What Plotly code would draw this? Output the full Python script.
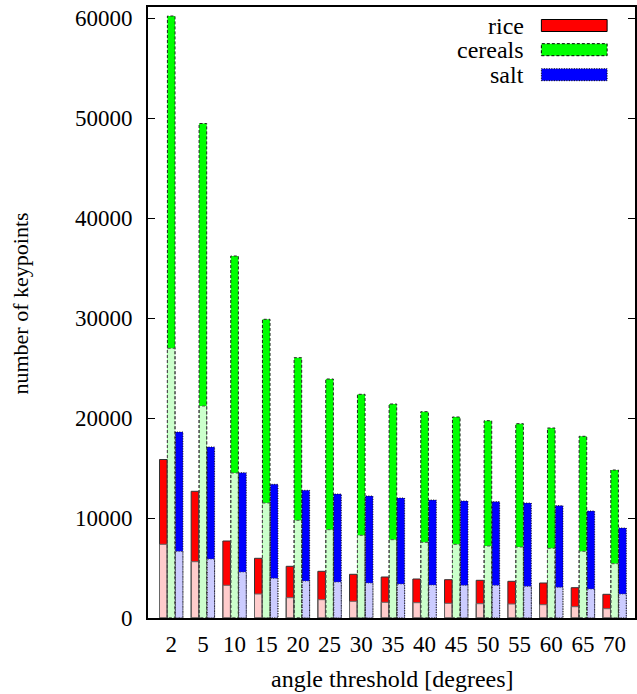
import plotly.graph_objects as go

# ---- data ----
angles = [2, 5, 10, 15, 20, 25, 30, 35, 40, 45, 50, 55, 60, 65, 70]
rice_total = [15850, 12670, 7700, 5970, 5170, 4670, 4370, 4100, 3900, 3830, 3770, 3670, 3500, 3030, 2370]
rice_part = [7370, 5630, 3270, 2400, 2030, 1830, 1670, 1570, 1530, 1470, 1430, 1400, 1330, 1130, 930]
cereals_total = [60200, 49450, 36200, 29870, 26030, 23900, 22370, 21400, 20630, 20100, 19730, 19430, 19000, 18170, 14800]
cereals_part = [26970, 21200, 14500, 11500, 9770, 8830, 8270, 7830, 7570, 7370, 7200, 7100, 6970, 6670, 5430]
salt_total = [18600, 17100, 14530, 13370, 12770, 12400, 12200, 12000, 11800, 11700, 11630, 11500, 11230, 10700, 9000]
salt_part = [6670, 5900, 4600, 3970, 3700, 3600, 3500, 3400, 3300, 3270, 3270, 3170, 3070, 2900, 2400]
series_names = ["rice", "cereals", "salt"]
y_ticks = [0, 10000, 20000, 30000, 40000, 50000, 60000]

FONT = "Liberation Serif, Times New Roman, serif"
FS = 23
W, H = 637, 694
ML, MR, MT, MB = 148, 0, 7, 76
PW, PH = W - ML - MR, H - MT - MB

BW = 0.24
styles = [
    # name, totals, parts, offset, dark, light, dash, edge dark, edge light
    ("rice", rice_total, rice_part, -0.37, "#ff0000", "#ffcccc", "solid", "#333333", "#666666"),
    ("cereals", cereals_total, cereals_part, -0.12, "#00ff00", "#ccffcc", "3px,2px", "#222222", "#555555"),
    ("salt", salt_total, salt_part, 0.13, "#0000ff", "#ccccff", "1px,1.5px", "#111111", "#444444"),
]

xs = list(range(len(angles)))
fig = go.Figure()

for name, tot, part, off, dark, light, dash, ed, el in styles:
    fig.add_trace(go.Bar(x=xs, y=tot, offset=off, width=BW, marker=dict(color=dark, line=dict(width=0)),
                         name=name, showlegend=False, hoverinfo="skip"))
    fig.add_trace(go.Bar(x=xs, y=part, offset=off, width=BW, marker=dict(color=light, line=dict(width=0)),
                         name=name + " part", showlegend=False, hoverinfo="skip"))

def outline(vals, off):
    ox, oy = [], []
    for i, v in zip(xs, vals):
        l, r = i + off, i + off + BW
        ox += [l, l, r, r, l, None]
        oy += [0, v, v, 0, 0, None]
    return ox, oy

for name, tot, part, off, dark, light, dash, ed, el in styles:
    for vals, col in ((tot, ed), (part, el)):
        ox, oy = outline(vals, off)
        fig.add_trace(go.Scatter(x=ox, y=oy, mode="lines", line=dict(color=col, width=1, dash=dash),
                                 showlegend=False, hoverinfo="skip"))

fig.update_layout(
    width=W, height=H,
    margin=dict(l=ML, r=MR, t=MT, b=MB),
    plot_bgcolor="white", paper_bgcolor="white",
    barmode="overlay", showlegend=False,
    font=dict(family=FONT, size=FS, color="black"),
)
fig.update_xaxes(
    range=[-0.733, 14.644], tickmode="array", tickvals=xs, ticktext=[str(a) for a in angles],
    showgrid=False, zeroline=False, showline=True, linecolor="black", linewidth=2, mirror=True,
    ticks="", ticklabelstandoff=4, tickfont=dict(family=FONT, size=FS, color="black"),
)
fig.update_yaxes(
    range=[0, 61100], tickmode="array", tickvals=y_ticks, ticktext=[str(t) for t in y_ticks],
    showgrid=False, zeroline=False, showline=True, linecolor="black", linewidth=2, mirror="ticks",
    ticks="inside", ticklen=7, tickwidth=1, tickcolor="black", ticklabelstandoff=9,
    tickfont=dict(family=FONT, size=FS, color="black"),
)

def px2x(px):
    return (px - ML) / PW

def py2y(py):
    return (H - MB - py) / PH

anns = [
    dict(text="number of keypoints", x=px2x(19), y=py2y(304), xref="paper", yref="paper",
         textangle=-90, showarrow=False, xanchor="center", yanchor="middle", font=dict(size=22)),
    dict(text="angle threshold [degrees]", x=px2x(394), y=py2y(679), xref="paper", yref="paper",
         showarrow=False, xanchor="center", yanchor="middle", font=dict(size=24)),
]
shapes = []
row_y = [25.5, 49.7, 74.7]
for (name, tot, part, off, dark, light, dash, ed, el), ry in zip(styles, row_y):
    anns.append(dict(text=name, x=px2x(528), y=py2y(ry), xref="paper", yref="paper", showarrow=False,
                     xanchor="right", yanchor="middle", font=dict(size=24)))
    shapes.append(dict(type="rect", xref="paper", yref="paper", x0=px2x(543), x1=px2x(609),
                       y0=py2y(ry + 6), y1=py2y(ry - 6), fillcolor=dark,
                       line=dict(color="black", width=1, dash=dash)))
fig.update_layout(annotations=anns, shapes=shapes)

fig.write_html(
    "out.html",
    config={"displayModeBar": False},
    post_script="document.body.style.margin='0';document.body.style.padding='0';"
                "document.documentElement.style.overflow='hidden';",
)
